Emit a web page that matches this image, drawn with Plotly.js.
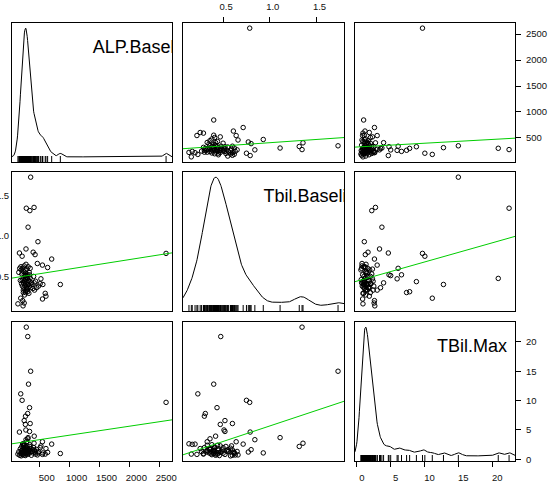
<!DOCTYPE html>
<html><head><meta charset="utf-8">
<script src="https://cdn.plot.ly/plotly-3.0.1.min.js"></script>
<style>html,body{margin:0;padding:0;background:#fff}#chart{width:556px;height:487px}</style>
</head><body><div id="chart"></div>
<script>
const varNames = ['ALP.Baseline', 'Tbil.Baseline', 'TBil.Max'];

const alpBaseline = [2615,275,300,348,335,405,305,470,270,845,700,632,545,460,160,205,422,390,312,182,
  330,298,262,240,340,260,268,330,408,604,592,508,552,546,300,280,225,215,240,221,
  135,150,165,175,185,190,195,200,205,210,215,220,225,228,232,236,240,243,246,249,
  252,255,258,261,264,267,270,274,278,282,286,290,295,300,306,312,318,325,332,340,
  350,360,372,385,398,412,430,448,480,520];

const tbilBaseline = [0.785,1.345,0.475,1.73,1.315,1.355,1.11,0.93,0.84,0.40,0.715,0.61,0.64,0.66,0.79,0.75,0.77,0.80,0.40,0.23,
  0.435,0.31,0.30,0.52,0.60,0.47,0.51,0.52,0.42,0.255,0.29,0.41,0.40,0.22,0.36,0.33,0.33,0.20,0.17,0.135,
  0.16,0.55,0.60,0.45,0.62,0.58,0.41,0.53,0.45,0.38,0.60,0.47,0.30,0.42,0.56,0.36,0.63,0.44,0.27,0.50,
  0.39,0.58,0.46,0.32,0.54,0.41,0.65,0.37,0.49,0.43,0.59,0.34,0.52,0.40,0.62,0.45,0.29,0.55,0.38,0.48,
  0.36,0.42,0.40,0.35,0.50,0.33,0.44,0.36,0.38,0.47];

const tbilMax = [9.7,22.5,20.9,15.0,2.2,2.75,3.7,1.1,3.35,1.0,2.6,1.2,3.0,0.76,4.65,10.05,1.25,1.65,12.8,11.15,
  8.8,7.8,7.35,6.6,6.1,5.95,5.0,4.75,3.95,1.84,0.9,2.0,1.1,0.85,3.5,3.0,2.4,2.6,2.55,2.65,
  0.9,1.3,0.7,1.8,1.0,0.6,1.5,2.2,1.1,0.8,1.6,1.2,2.0,0.9,1.4,1.7,0.75,2.4,1.3,1.05,
  1.55,1.9,0.65,1.25,1.45,2.1,1.35,0.95,1.6,1.15,2.3,1.4,0.85,1.75,1.2,1.5,1.0,1.65,2.5,1.3,
  1.85,0.7,1.4,1.1,2.0,1.55,0.9,1.7,1.3,2.3];

const alpTicks = [500, 1000, 1500, 2000, 2500];
const tbilTicks = [0.5, 1.0, 1.5];
const tbilTickText = ['0.5', '1.0', '1.5'];
const maxTicks = [0, 5, 10, 15, 20];

const vars = [alpBaseline, tbilBaseline, tbilMax];

// ---- layout geometry (pixels) and style ----
const W = 556, H = 487;
const colPx = [[12, 172], [183, 344], [355, 515]];
const rowPx = [[23, 162], [172, 311], [322, 461]];
const labelFrac = [0.505, 0.5, 0.512];
const densityAdjust = [1.0, 1.25, 1.1];   // bandwidth multiplier (like density(adjust=))
const GREEN = '#00CD00';
const FONT = 'Liberation Sans, Arial, sans-serif';
const tickFont = {family: FONT, size: 9.5, color: '#111'};

function padRange(a) {
  const mn = Math.min(...a), mx = Math.max(...a), d = mx - mn;
  return [mn - 0.04 * d, mx + 0.04 * d];
}
function mean(a) { return a.reduce((s, v) => s + v, 0) / a.length; }
function quantile(sorted, p) {
  const h = (sorted.length - 1) * p, lo = Math.floor(h), hi = Math.ceil(h);
  return sorted[lo] + (h - lo) * (sorted[hi] - sorted[lo]);
}
function bwNrd0(a) {
  const m = mean(a);
  const sd = Math.sqrt(a.reduce((s, v) => s + (v - m) * (v - m), 0) / (a.length - 1));
  const s = [...a].sort((p, q) => p - q);
  const iqr = quantile(s, 0.75) - quantile(s, 0.25);
  const lo = Math.min(sd, iqr / 1.34);
  return 0.9 * lo * Math.pow(a.length, -0.2);
}
function kde(a, grid, adjust) {
  const bw = bwNrd0(a) * adjust, n = a.length, c = 1 / (n * bw * Math.sqrt(2 * Math.PI));
  return grid.map(g => c * a.reduce((s, v) => s + Math.exp(-0.5 * ((g - v) / bw) ** 2), 0));
}
function ols(x, y) {
  const mx = mean(x), my = mean(y);
  let sxy = 0, sxx = 0;
  for (let i = 0; i < x.length; i++) { sxy += (x[i] - mx) * (y[i] - my); sxx += (x[i] - mx) ** 2; }
  const b = sxy / sxx;
  return {a: my - b * mx, b: b};
}

const ranges = vars.map(padRange);
const traces = [];
const layout = {
  width: W, height: H,
  margin: {l: 0, r: 0, t: 0, b: 0},
  paper_bgcolor: '#fff', plot_bgcolor: '#fff',
  showlegend: false,
  font: {family: FONT, color: '#000'}
};

function baseAxis() {
  return {showline: true, mirror: true, linecolor: '#000', linewidth: 1,
    showgrid: false, zeroline: false, ticks: '', showticklabels: false, fixedrange: true};
}
function tickAxis(side, vals, text) {
  return {ticks: 'outside', ticklen: 5, tickwidth: 1, tickcolor: '#000', side: side,
    tickmode: 'array', tickvals: vals, ticktext: text || vals.map(String),
    showticklabels: true, tickfont: tickFont, ticklabelstandoff: 3};
}

for (let r = 0; r < 3; r++) {
  for (let c = 0; c < 3; c++) {
    const k = r * 3 + c + 1;
    const xs = k === 1 ? 'x' : 'x' + k, ys = k === 1 ? 'y' : 'y' + k;
    const xa = Object.assign(baseAxis(), {
      domain: [colPx[c][0] / W, colPx[c][1] / W], range: ranges[c], anchor: ys});
    const ya = Object.assign(baseAxis(), {
      domain: [1 - rowPx[r][1] / H, 1 - rowPx[r][0] / H], anchor: xs});
    const xv = vars[c], yv = vars[r];
    if (r === c) {
      const x0 = ranges[c][0], x1 = ranges[c][1];
      const grid = [];
      for (let i = 0; i <= 400; i++) grid.push(x0 + (x1 - x0) * i / 400);
      const d = kde(xv, grid, densityAdjust[c]);
      const dmax = Math.max(...d);
      const yr = [-0.04 * dmax, 1.04 * dmax];
      ya.range = yr;
      const hPx = rowPx[r][1] - rowPx[r][0];
      const perPx = (yr[1] - yr[0]) / hPx;
      traces.push({type: 'scatter', mode: 'lines', x: grid, y: d, xaxis: xs, yaxis: ys,
        line: {color: '#000', width: 1}, hoverinfo: 'skip'});
      traces.push({type: 'scatter', mode: 'markers', x: xv, y: xv.map(() => yr[0] + 2.5 * perPx),
        xaxis: xs, yaxis: ys,
        marker: {symbol: 'line-ns-open', size: 5, color: '#000', line: {color: '#000', width: 1}},
        hoverinfo: 'skip'});
      traces.push({type: 'scatter', mode: 'text', x: [x0 + labelFrac[c] * (x1 - x0)],
        y: [yr[1] - 25 * perPx], text: [varNames[c]], textposition: 'middle right',
        textfont: {family: FONT, size: 18, color: '#000'},
        cliponaxis: true, xaxis: xs, yaxis: ys, hoverinfo: 'skip'});
    } else {
      ya.range = ranges[r];
      traces.push({type: 'scatter', mode: 'markers', x: xv, y: yv, xaxis: xs, yaxis: ys,
        marker: {symbol: 'circle-open', size: 4.5, color: '#000', line: {color: '#000', width: 1}},
        hoverinfo: 'skip'});
      const f = ols(xv, yv);
      const lx = ranges[c];
      traces.push({type: 'scatter', mode: 'lines', x: lx, y: lx.map(v => f.a + f.b * v),
        xaxis: xs, yaxis: ys, line: {color: GREEN, width: 1}, hoverinfo: 'skip'});
    }
    layout[k === 1 ? 'xaxis' : 'xaxis' + k] = xa;
    layout[k === 1 ? 'yaxis' : 'yaxis' + k] = ya;
  }
}
// outer tick axes (alternating sides, as in a pairs plot)
Object.assign(layout.xaxis2, tickAxis('top', tbilTicks, tbilTickText), {ticklabelshift: 3});
Object.assign(layout.yaxis3, tickAxis('right', alpTicks));
Object.assign(layout.yaxis4, tickAxis('left', tbilTicks, tbilTickText), {ticks: '', ticklabelstandoff: 0});
Object.assign(layout.xaxis7, tickAxis('bottom', alpTicks), {ticklabelshift: 7});
Object.assign(layout.xaxis9, tickAxis('bottom', maxTicks), {ticklabelshift: 5});
// right axis of the bottom row shows the TBil.Max scale
layout.yaxis10 = Object.assign(baseAxis(), tickAxis('right', maxTicks), {
  domain: layout.yaxis9.domain, range: ranges[2], overlaying: 'y9', anchor: 'x9', showline: false});
traces.push({type: 'scatter', mode: 'markers', x: [ranges[2][0]], y: [ranges[2][0]],
  xaxis: 'x9', yaxis: 'y10', marker: {size: 1, opacity: 0}, hoverinfo: 'skip'});

Plotly.newPlot('chart', traces, layout, {staticPlot: true, displayModeBar: false});
</script>
</body></html>
